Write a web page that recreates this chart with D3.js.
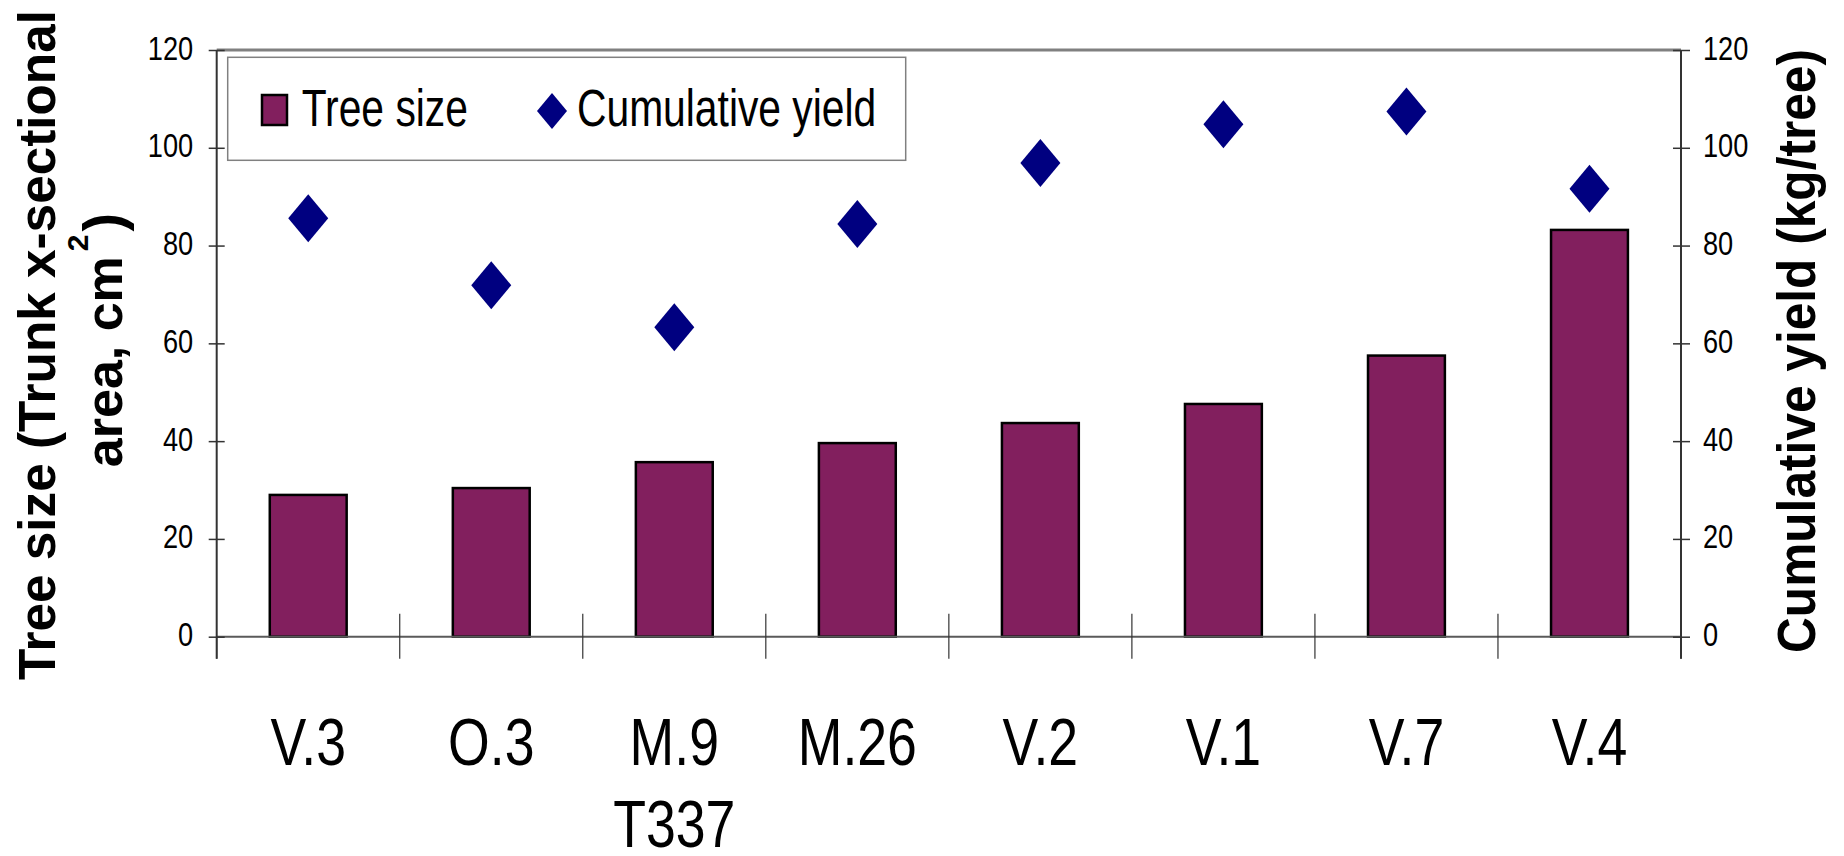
<!DOCTYPE html>
<html><head><meta charset="utf-8">
<script src="https://cdn.jsdelivr.net/npm/d3@7"></script>
<style>html,body{margin:0;padding:0;background:#fff;} svg{display:block;}</style>
</head><body>
<svg id="chart" width="1844" height="856"></svg>
<script>
// ---- data ----
const categories = ["V.3", "O.3", "M.9\nT337", "M.26", "V.2", "V.1", "V.7", "V.4"];
const treeSize = [29.0, 30.4, 35.7, 39.6, 43.7, 47.6, 57.5, 83.2];
const cumulativeYield = [85.6, 71.9, 63.3, 84.4, 96.9, 104.8, 107.4, 91.6];
const leftTicks = [0, 20, 40, 60, 80, 100, 120];
const rightTicks = [0, 20, 40, 60, 80, 100, 120];
const seriesNames = ["Tree size", "Cumulative yield"];
const leftTitleLine1 = "Tree size (Trunk x-sectional";
const leftTitleLine2 = ["area, cm", "2", ")"];
const rightTitle = "Cumulative yield (kg/tree)";

// ---- layout ----
const L = 216.7, R = 1681, T = 50, B = 636.7;
const FONT = "'Liberation Sans', Arial, sans-serif";
const SX = 0.8;
const BAR_FILL = "#821F5E", DIA_FILL = "#000080";

const svg = d3.select("#chart");
const x = d3.scaleBand().domain(categories).range([L, R]).paddingInner(0.58).paddingOuter(0.29);
const yL = d3.scaleLinear().domain([0, 120]).range([B, T]);
const yR = d3.scaleLinear().domain([0, 120]).range([B, T]);
const bw = x.bandwidth();
const step = x.step();

function diamondPath(hw, hh) {
  const p = d3.path();
  p.moveTo(0, -hh); p.lineTo(hw, 0); p.lineTo(0, hh); p.lineTo(-hw, 0); p.closePath();
  return p.toString();
}

// bars
svg.append("g").selectAll("rect").data(categories).join("rect")
  .attr("x", c => x(c)).attr("width", bw)
  .attr("y", (c, i) => yL(treeSize[i]))
  .attr("height", (c, i) => yL(0) - yL(treeSize[i]))
  .attr("fill", BAR_FILL).attr("stroke", "#000").attr("stroke-width", 2.5);

// plot top border
svg.append("line").attr("x1", L).attr("x2", R).attr("y1", yL(120)).attr("y2", yL(120))
  .attr("stroke", "#808080").attr("stroke-width", 3);

// x-axis baseline
svg.append("line").attr("x1", L).attr("x2", R).attr("y1", yL(0)).attr("y2", yL(0))
  .attr("stroke", "#5a5a5a").attr("stroke-width", 2);

// category boundary ticks
const bounds = d3.range(categories.length + 1).map(i => L + i * step);
svg.append("g").selectAll("line").data(bounds).join("line")
  .attr("x1", d => d).attr("x2", d => d)
  .attr("y1", (d, i) => (i === 0 || i === categories.length) ? yL(0) : yL(0) - 23)
  .attr("y2", yL(0) + 22)
  .attr("stroke", "#333").attr("stroke-width", 1.2);

// left axis
const gL = svg.append("g").attr("transform", `translate(${L},0)`)
  .call(d3.axisLeft(yL).tickValues(leftTicks).tickSize(8).tickPadding(0));
gL.select(".domain").remove();
gL.selectAll(".tick line").attr("x1", 8).attr("stroke", "#333").attr("stroke-width", 1.5);
gL.selectAll(".tick text").attr("x", null).attr("dy", null)
  .attr("transform", `translate(-23.5,9) scale(${SX},1)`)
  .attr("text-anchor", "end").attr("font-family", FONT).attr("font-size", 34).attr("fill", "#000");
svg.append("line").attr("x1", L).attr("x2", L).attr("y1", yL(120)).attr("y2", yL(0) + 22)
  .attr("stroke", "#333").attr("stroke-width", 2);

// right axis
const gR = svg.append("g").attr("transform", `translate(${R},0)`)
  .call(d3.axisRight(yR).tickValues(rightTicks).tickSize(9).tickPadding(0));
gR.select(".domain").remove();
gR.selectAll(".tick line").attr("x1", -8).attr("stroke", "#333").attr("stroke-width", 1.5);
gR.selectAll(".tick text").attr("x", null).attr("dy", null)
  .attr("transform", `translate(22,9) scale(${SX},1)`)
  .attr("text-anchor", "start").attr("font-family", FONT).attr("font-size", 34).attr("fill", "#000");
svg.append("line").attr("x1", R).attr("x2", R).attr("y1", yR(120)).attr("y2", yR(0) + 22)
  .attr("stroke", "#333").attr("stroke-width", 2);

// diamonds
svg.append("g").selectAll("path").data(categories).join("path")
  .attr("d", diamondPath(20, 24))
  .attr("transform", (c, i) => `translate(${x(c) + bw / 2},${yR(cumulativeYield[i])})`)
  .attr("fill", DIA_FILL);

// category labels
const gx = svg.append("g").attr("transform", `translate(0,${yL(0)})`)
  .call(d3.axisBottom(x).tickSize(0).tickPadding(0));
gx.select(".domain").remove();
gx.selectAll(".tick text").each(function (c) {
  const t = d3.select(this);
  t.text(null).attr("y", null).attr("dy", null)
    .attr("transform", `translate(0,128) scale(${SX},1)`)
    .attr("text-anchor", "middle").attr("font-family", FONT).attr("font-size", 67).attr("fill", "#000");
  c.split("\n").forEach((s, j) => {
    t.append("tspan").attr("x", 0).attr("dy", j === 0 ? 0 : 82).text(s);
  });
});

// legend
const lg = svg.append("g");
lg.append("rect").attr("x", 227.7).attr("y", 57.3).attr("width", 678).attr("height", 103)
  .attr("fill", "#fff").attr("stroke", "#808080").attr("stroke-width", 1.5);
lg.append("rect").attr("x", 262).attr("y", 95).attr("width", 25).attr("height", 30)
  .attr("fill", BAR_FILL).attr("stroke", "#000").attr("stroke-width", 2.5);
lg.append("text").attr("transform", `translate(301.7,126) scale(${SX},1)`)
  .attr("font-family", FONT).attr("font-size", 51).attr("fill", "#000").text(seriesNames[0]);
lg.append("path").attr("d", diamondPath(15, 18)).attr("transform", "translate(552,111)").attr("fill", DIA_FILL);
lg.append("text").attr("transform", `translate(577,126) scale(${SX},1)`)
  .attr("font-family", FONT).attr("font-size", 51).attr("fill", "#000").text(seriesNames[1]);

// left title
svg.append("text").attr("transform", "translate(55,345) rotate(-90)")
  .attr("text-anchor", "middle").attr("font-family", FONT).attr("font-weight", "bold")
  .attr("font-size", 52).attr("fill", "#000").attr("textLength", 670).attr("lengthAdjust", "spacingAndGlyphs")
  .text(leftTitleLine1);
const lt2 = svg.append("text").attr("transform", "translate(122,340) rotate(-90)")
  .attr("text-anchor", "middle").attr("font-family", FONT).attr("font-weight", "bold")
  .attr("font-size", 52).attr("fill", "#000");
lt2.append("tspan").text(leftTitleLine2[0]);
lt2.append("tspan").attr("font-size", 30).attr("dy", -34).attr("dx", 5).text(leftTitleLine2[1]);
lt2.append("tspan").attr("dy", 34).attr("dx", 3).attr("font-size", 56).text(leftTitleLine2[2]);

// right title
svg.append("text").attr("transform", "translate(1815,351) rotate(-90)")
  .attr("text-anchor", "middle").attr("font-family", FONT).attr("font-weight", "bold")
  .attr("font-size", 54).attr("fill", "#000").attr("textLength", 604).attr("lengthAdjust", "spacingAndGlyphs")
  .text(rightTitle);
</script>
</body></html>
